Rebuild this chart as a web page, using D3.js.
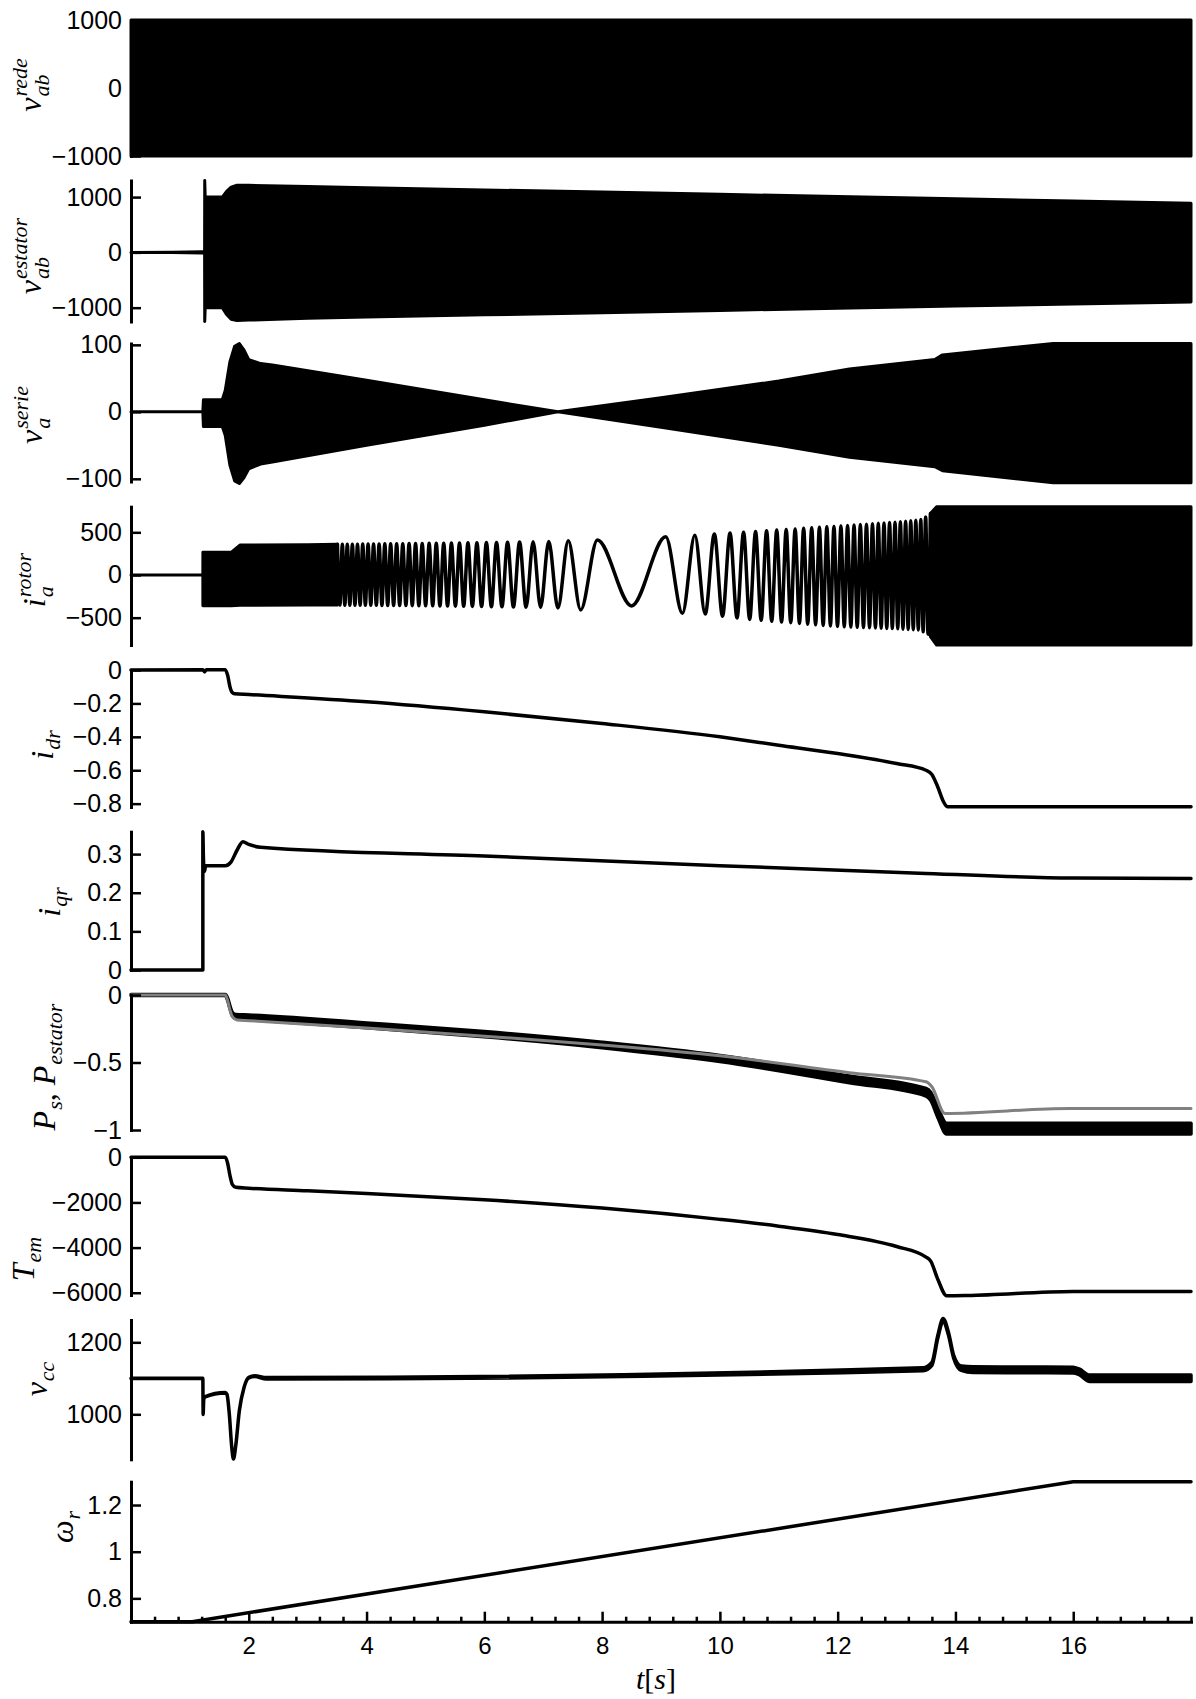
<!DOCTYPE html>
<html>
<head>
<meta charset="utf-8">
<script src="https://cdn.jsdelivr.net/npm/d3@7"></script>
<style>
  body { margin: 0; background: #fff; }
  svg { display: block; }
  .tick text { font-family: "Liberation Sans", Arial, sans-serif; fill: #000; }
  .math { font-family: "Liberation Serif", "Times New Roman", serif; fill: #000; }
</style>
</head>
<body>
<svg id="chart" width="1196" height="1699"></svg>
<script>
// ---------------- time axis ----------------
const timeRange = [0, 18];
const timeMajorTicks = [2, 4, 6, 8, 10, 12, 14, 16];
const timeMinorStep = 0.4;

// ---------------- y tick values per panel ----------------
const ticksGrid   = [-1000, 0, 1000];
const ticksStator = [-1000, 0, 1000];
const ticksSerie  = [-100, 0, 100];
const ticksRotor  = [-500, 0, 500];
const ticksIdr    = [-0.8, -0.6, -0.4, -0.2, 0];
const ticksIqr    = [0, 0.1, 0.2, 0.3];
const ticksPower  = [-1, -0.5, 0];
const ticksTem    = [-6000, -4000, -2000, 0];
const ticksVcc    = [1000, 1200];
const ticksOmega  = [0.8, 1, 1.2];

// ---------------- grid voltage v_ab (envelope of the 60 Hz wave) ----------------
const gridT  = [0, 18];
const gridHi = [1000, 1000];
const gridLo = [-1000, -1000];

// ---------------- stator voltage v_ab (envelope) ----------------
const statorT  = [0, 0.7, 1.2, 1.25, 1.252, 1.26, 1.55, 1.62, 1.7, 1.8, 2.0, 3, 4, 6, 8, 10, 12, 14, 16, 18];
const statorHi = [0, 4, 10, 10, 1300, 1000, 1000, 1100, 1180, 1215, 1212, 1190, 1170, 1130, 1090, 1050, 1010, 970, 930, 890];
const statorLo = [0, -4, -10, -10, -1250, -1000, -1000, -1120, -1210, -1232, -1225, -1190, -1170, -1130, -1090, -1050, -1010, -970, -935, -898];

// ---------------- series converter voltage v_a (envelope) ----------------
const serieT  = [0, 1.22, 1.23, 1.55, 1.6, 1.68, 1.76, 1.84, 1.92, 2.0, 2.2, 2.4, 4, 6, 7.25, 9, 11, 12.2, 13.65, 13.78, 15.66, 18];
const serieHi = [0, 0, 18, 18, 32, 75, 98, 102, 92, 78, 72, 70, 47, 18, 0, 21, 46, 64, 78, 85, 102, 102];
const serieLo = [0, 0, -22, -22, -35, -80, -103, -107, -98, -85, -78, -75, -50, -20, 0, -23, -50, -68, -82, -88, -106, -106];

// ---------------- rotor current i_a ----------------
// amplitude envelope
const rotorEnvT  = [0, 1.22, 1.221, 1.7, 1.85, 3, 5, 7, 7.42, 7.64, 7.92, 8.5, 9.08, 9.36, 9.58, 10.5, 12, 13, 13.4, 13.55, 13.68, 18];
const rotorEnvHi = [0, 0, 265, 265, 350, 355, 370, 390, 400, 405, 410, 420, 447, 455, 467, 505, 572, 620, 645, 700, 800, 800];
const rotorEnvLo = [0, 0, -360, -360, -355, -350, -360, -380, -390, -409, -390, -362, -420, -448, -444, -520, -604, -630, -645, -700, -820, -820];
// times of the visible slip-frequency maxima and minima
const rotorPeakT = [3.506, 3.589, 3.673, 3.759, 3.846, 3.935, 4.026, 4.119, 4.213, 4.310, 4.409, 4.511, 4.615, 4.722, 4.832, 4.945,
  5.063, 5.184, 5.310, 5.441, 5.578, 5.722, 5.874, 6.035, 6.207, 6.394, 6.598, 6.828, 7.094, 7.425, 7.920,
  9.080, 9.575, 9.906, 10.172, 10.402, 10.606, 10.793, 10.965, 11.126, 11.278, 11.422, 11.559, 11.690, 11.816, 11.937,
  12.055, 12.168, 12.278, 12.385, 12.489, 12.591, 12.690, 12.787, 12.881, 12.974, 13.065, 13.154, 13.241, 13.327, 13.411, 13.494, 13.575];
const rotorTroughT = [3.548, 3.631, 3.716, 3.803, 3.891, 3.980, 4.072, 4.166, 4.261, 4.359, 4.459, 4.562, 4.668, 4.776, 4.888, 5.003,
  5.123, 5.246, 5.375, 5.509, 5.649, 5.797, 5.953, 6.120, 6.299, 6.494, 6.709, 6.955, 7.249, 7.636, 8.500,
  9.364, 9.751, 10.045, 10.291, 10.506, 10.701, 10.880, 11.047, 11.203, 11.351, 11.491, 11.625, 11.754, 11.877, 11.997,
  12.112, 12.224, 12.332, 12.438, 12.541, 12.641, 12.739, 12.834, 12.928, 13.020, 13.109, 13.197, 13.284, 13.369, 13.452, 13.535];

// ---------------- rotor currents i_dr, i_qr ----------------
const idrT = [0, 1.22, 1.25, 1.28, 1.6, 1.64, 1.68, 1.72, 1.76, 2, 4, 6, 8, 10, 11, 12, 13, 13.5, 13.6, 13.7, 13.8, 13.86, 18];
const idrV = [0, 0.002, -0.012, 0.002, 0.002, -0.03, -0.10, -0.135, -0.142, -0.147, -0.19, -0.25, -0.32, -0.40, -0.45, -0.50, -0.56, -0.60, -0.625, -0.70, -0.79, -0.818, -0.818];

const iqrT = [0, 1.22, 1.2201, 1.23, 1.245, 1.27, 1.6, 1.7, 1.8, 1.9, 2.0, 2.2, 6, 10, 13.5, 16, 18];
const iqrV = [0, 0, 0.358, 0.29, 0.255, 0.27, 0.27, 0.28, 0.31, 0.332, 0.325, 0.318, 0.295, 0.27, 0.25, 0.238, 0.237];

// ---------------- powers P_s (black, with ripple) and P_estator (grey) ----------------
const psT      = [0, 1.6, 1.64, 1.68, 1.72, 1.78, 2, 4, 6, 8, 10, 12.2, 13.5, 13.58, 13.7, 13.85, 18];
const psMean   = [0, 0, -0.03, -0.09, -0.14, -0.16, -0.165, -0.225, -0.29, -0.37, -0.47, -0.625, -0.72, -0.75, -0.87, -0.99, -0.99];
const psRipple = [0.003, 0.003, 0.008, 0.01, 0.012, 0.015, 0.017, 0.018, 0.019, 0.02, 0.022, 0.025, 0.028, 0.03, 0.035, 0.04, 0.04];

const pestT = [0, 1.6, 1.64, 1.68, 1.72, 1.8, 2, 4, 6, 8, 10, 12.2, 13.5, 13.6, 13.82, 15.94, 18];
const pestV = [0, 0, -0.04, -0.11, -0.16, -0.185, -0.19, -0.245, -0.305, -0.37, -0.45, -0.576, -0.643, -0.68, -0.877, -0.84, -0.84];

// ---------------- electromagnetic torque ----------------
const temT = [0, 1.6, 1.64, 1.68, 1.72, 1.78, 2, 3, 4, 6, 8, 10, 11, 12, 13, 13.5, 13.58, 13.7, 13.85, 14.2, 16, 18];
const temV = [0, 0, -250, -800, -1200, -1330, -1370, -1480, -1600, -1880, -2250, -2750, -3050, -3420, -3950, -4420, -4600, -5400, -6130, -6120, -5940, -5940];

// ---------------- DC link voltage (with ripple) ----------------
const vccT      = [0, 1.22, 1.225, 1.235, 1.25, 1.6, 1.63, 1.67, 1.71, 1.74, 1.78, 1.84, 1.92, 2.0, 2.1, 2.3, 13.45, 13.6, 13.7, 13.79, 13.88, 13.97, 14.1, 14.3, 16.0, 16.1, 16.28, 18];
const vccV      = [1100, 1100, 1000, 1040, 1048, 1060, 1055, 1000, 910, 876, 915, 1010, 1075, 1102, 1106, 1100, 1125, 1140, 1215, 1262, 1225, 1160, 1128, 1124, 1123, 1118, 1100, 1100];
const vccRipple = [0.5, 0.5, 0.5, 0.5, 0.5, 0.5, 0.5, 0.5, 0.5, 0.5, 0.5, 0.5, 0.5, 1, 1, 2, 4, 4, 4, 4, 4, 4, 6, 8, 8, 8, 9, 9];

// ---------------- rotor speed ----------------
const omegaT = [0, 1.04, 16, 18];
const omegaV = [0.7, 0.7, 1.3, 1.3];

// ======================================================================
const svg = d3.select('#chart');
const x = d3.scaleLinear().domain(timeRange).range([131, 1191]);
const fmt = v => d3.format('')(v).replace('-', '\u2212');

const panels = [
  { top: 20,    bottom: 156,    domain: [-1000, 1000],  ticks: ticksGrid,   label: [{ b: 'v', sup: 'rede', sub: 'ab' }],    lx: 41, ly: 85 },
  { top: 180.5, bottom: 321.5,  domain: [-1250, 1300],  ticks: ticksStator, label: [{ b: 'v', sup: 'estator', sub: 'ab' }], lx: 41, ly: 256 },
  { top: 343.5, bottom: 481.5,  domain: [-104, 102],    ticks: ticksSerie,  label: [{ b: 'v', sup: 'serie', sub: 'a' }],    lx: 42, ly: 415 },
  { top: 506.7, bottom: 645,    domain: [-820, 800],    ticks: ticksRotor,  label: [{ b: 'i', sup: 'rotor', sub: 'a' }],    lx: 45, ly: 580 },
  { top: 670,   bottom: 807,    domain: [-0.82, 0],     ticks: ticksIdr,    label: [{ b: 'i', sub: 'dr' }],                 lx: 53, ly: 745 },
  { top: 831.7, bottom: 970,    domain: [0, 0.358],     ticks: ticksIqr,    label: [{ b: 'i', sub: 'qr' }],                 lx: 60, ly: 902 },
  { top: 995,   bottom: 1130,   domain: [-1, 0],        ticks: ticksPower,  label: [{ b: 'P', sub: 's' }, { r: ',', gap: 8 }, { b: 'P', sub: 'estator' }], lx: 55, ly: 1067 },
  { top: 1157.3, bottom: 1295,  domain: [-6100, 0],     ticks: ticksTem,    label: [{ b: 'T', sub: 'em' }],                 lx: 34, ly: 1259 },
  { top: 1320,  bottom: 1459.3, domain: [875, 1262],    ticks: ticksVcc,    label: [{ b: 'v', sub: 'cc' }],                 lx: 47, ly: 1379 },
  { top: 1481.7, bottom: 1621.7, domain: [0.7, 1.3],    ticks: ticksOmega,  label: [{ b: 'ω', sub: 'r' }],                  lx: 73, ly: 1527 }
];
panels.forEach(p => { p.y = d3.scaleLinear().domain(p.domain).range([p.bottom, p.top]); });

const rows = (ts, ...cols) => ts.map((t, i) => [t, ...cols.map(c => c[i])]);
const lookup = (ts, vs, t) => {
  const i = d3.bisectRight(ts, t);
  if (i <= 0) return vs[0];
  if (i >= ts.length) return vs[vs.length - 1];
  const t0 = ts[i - 1], t1 = ts[i];
  return vs[i - 1] + (vs[i] - vs[i - 1]) * (t - t0) / (t1 - t0);
};

const plot = svg.append('g');

function band(p, data, opts = {}) {
  const a = d3.area().x(d => x(d[0])).y0(d => p.y(d[1])).y1(d => p.y(d[2])).curve(opts.curve || d3.curveLinear);
  plot.append('path').datum(data).attr('d', a)
    .attr('fill', opts.color || '#000').attr('stroke', opts.color || '#000')
    .attr('stroke-width', opts.width || 3).attr('stroke-linejoin', 'round');
}
function trace(p, data, opts = {}) {
  const l = d3.line().x(d => x(d[0])).y(d => p.y(d[1])).curve(opts.curve || d3.curveLinear);
  plot.append('path').datum(data).attr('d', l)
    .attr('fill', 'none').attr('stroke', opts.color || '#000')
    .attr('stroke-width', opts.width || 3.5).attr('stroke-linejoin', 'round').attr('stroke-linecap', 'round');
}
const smooth = d3.curveMonotoneX;

// panel 1: grid voltage
band(panels[0], rows(gridT, gridLo, gridHi));
// panel 2: stator voltage
band(panels[1], rows(statorT, statorLo, statorHi));
// panel 3: series voltage
band(panels[2], rows(serieT, serieLo, serieHi));

// panel 4: rotor current — dense parts as bands, resolved oscillation as a curve
{
  const p = panels[3];
  const first = rotorPeakT[0];
  const last = rotorPeakT[rotorPeakT.length - 1];
  const head = rotorEnvT.filter(t => t < first).concat([first]);
  band(p, head.map(t => [t, lookup(rotorEnvT, rotorEnvLo, t), lookup(rotorEnvT, rotorEnvHi, t)]));
  const tail = [last].concat(rotorEnvT.filter(t => t > last));
  band(p, tail.map(t => [t, lookup(rotorEnvT, rotorEnvLo, t), lookup(rotorEnvT, rotorEnvHi, t)]));
  const ext = rotorPeakT.map(t => [t, lookup(rotorEnvT, rotorEnvHi, t)])
    .concat(rotorTroughT.map(t => [t, lookup(rotorEnvT, rotorEnvLo, t)]))
    .sort((a, b) => a[0] - b[0]);
  trace(p, ext, { curve: smooth, width: 3.5 });
}

// panel 5, 6
trace(panels[4], rows(idrT, idrV), { curve: smooth });
trace(panels[5], rows(iqrT, iqrV), { curve: smooth });

// panel 7: P_s (black) then P_estator (grey) on top
band(panels[6], psT.map((t, i) => [t, psMean[i] - psRipple[i], psMean[i] + psRipple[i]]), { width: 3.5, curve: smooth });
trace(panels[6], rows(pestT, pestV), { color: '#808080', width: 3, curve: smooth });

// panel 8
trace(panels[7], rows(temT, temV), { curve: smooth });
// panel 9
band(panels[8], vccT.map((t, i) => [t, vccV[i] - vccRipple[i], vccV[i] + vccRipple[i]]), { width: 3.5, curve: smooth });
// panel 10
trace(panels[9], rows(omegaT, omegaV), { width: 3.5 });

// ---------------- axes ----------------
const axes = svg.append('g');
panels.forEach(p => {
  const g = axes.append('g').attr('transform', `translate(${x(0)},0)`)
    .call(d3.axisLeft(p.y).tickValues(p.ticks).tickFormat(fmt).tickSizeInner(-10).tickSizeOuter(0).tickPadding(9));
  g.select('.domain').attr('stroke-width', 3).attr('stroke-linecap', 'square');
  g.selectAll('.tick line').attr('stroke-width', 2.5);
  g.selectAll('.tick text').attr('font-size', 25);
});

const bottom = panels[panels.length - 1].bottom;
const gx = axes.append('g').attr('transform', `translate(0,${bottom})`)
  .call(d3.axisBottom(x).tickValues(timeMajorTicks).tickFormat(fmt).tickSizeInner(-10).tickSizeOuter(0).tickPadding(15));
gx.select('.domain').attr('stroke-width', 3).attr('stroke-linecap', 'square');
gx.selectAll('.tick line').attr('stroke-width', 2.5);
gx.selectAll('.tick text').attr('font-size', 24);

const minor = d3.range(timeMinorStep, timeRange[1] + 1e-9, timeMinorStep)
  .filter(v => !timeMajorTicks.some(m => Math.abs(m - v) < 1e-6));
const gm = axes.append('g').attr('transform', `translate(0,${bottom})`)
  .call(d3.axisBottom(x).tickValues(minor).tickFormat('').tickSizeInner(-5).tickSizeOuter(0));
gm.select('.domain').remove();
gm.selectAll('.tick line').attr('stroke-width', 2.5);

// ---------------- math labels ----------------
const FS = 32, SFS = 22;
function mathLabel(atoms, cx, cy) {
  const g = svg.append('g').attr('transform', `translate(${cx},${cy}) rotate(-90)`);
  const inner = g.append('g');
  let cur = 0;
  atoms.forEach(a => {
    if (a.r) {
      const t = inner.append('text').attr('class', 'math').attr('x', cur).attr('font-size', FS).text(a.r);
      cur += t.node().getComputedTextLength() + (a.gap || 0);
      return;
    }
    const t = inner.append('text').attr('class', 'math').attr('x', cur).attr('font-size', FS)
      .attr('font-style', 'italic').text(a.b);
    cur += t.node().getComputedTextLength() + 1;
    let w = 0;
    if (a.sup) {
      const s = inner.append('text').attr('class', 'math').attr('x', cur).attr('y', -14)
        .attr('font-size', SFS).attr('font-style', 'italic').text(a.sup);
      w = Math.max(w, s.node().getComputedTextLength());
    }
    if (a.sub) {
      const s = inner.append('text').attr('class', 'math').attr('x', cur).attr('y', a.sup ? 8 : 7)
        .attr('font-size', SFS).attr('font-style', 'italic').text(a.sub);
      w = Math.max(w, s.node().getComputedTextLength());
    }
    cur += w;
  });
  inner.attr('transform', `translate(${-cur / 2},0)`);
}
panels.forEach(p => mathLabel(p.label, p.lx, p.ly));

// time axis title t[s]
{
  const t = svg.append('text').attr('class', 'math').attr('font-size', 30)
    .attr('x', 656).attr('y', 1689).attr('text-anchor', 'middle');
  t.append('tspan').attr('font-style', 'italic').text('t');
  t.append('tspan').text('[');
  t.append('tspan').attr('font-style', 'italic').text('s');
  t.append('tspan').text(']');
}
</script>
</body>
</html>
